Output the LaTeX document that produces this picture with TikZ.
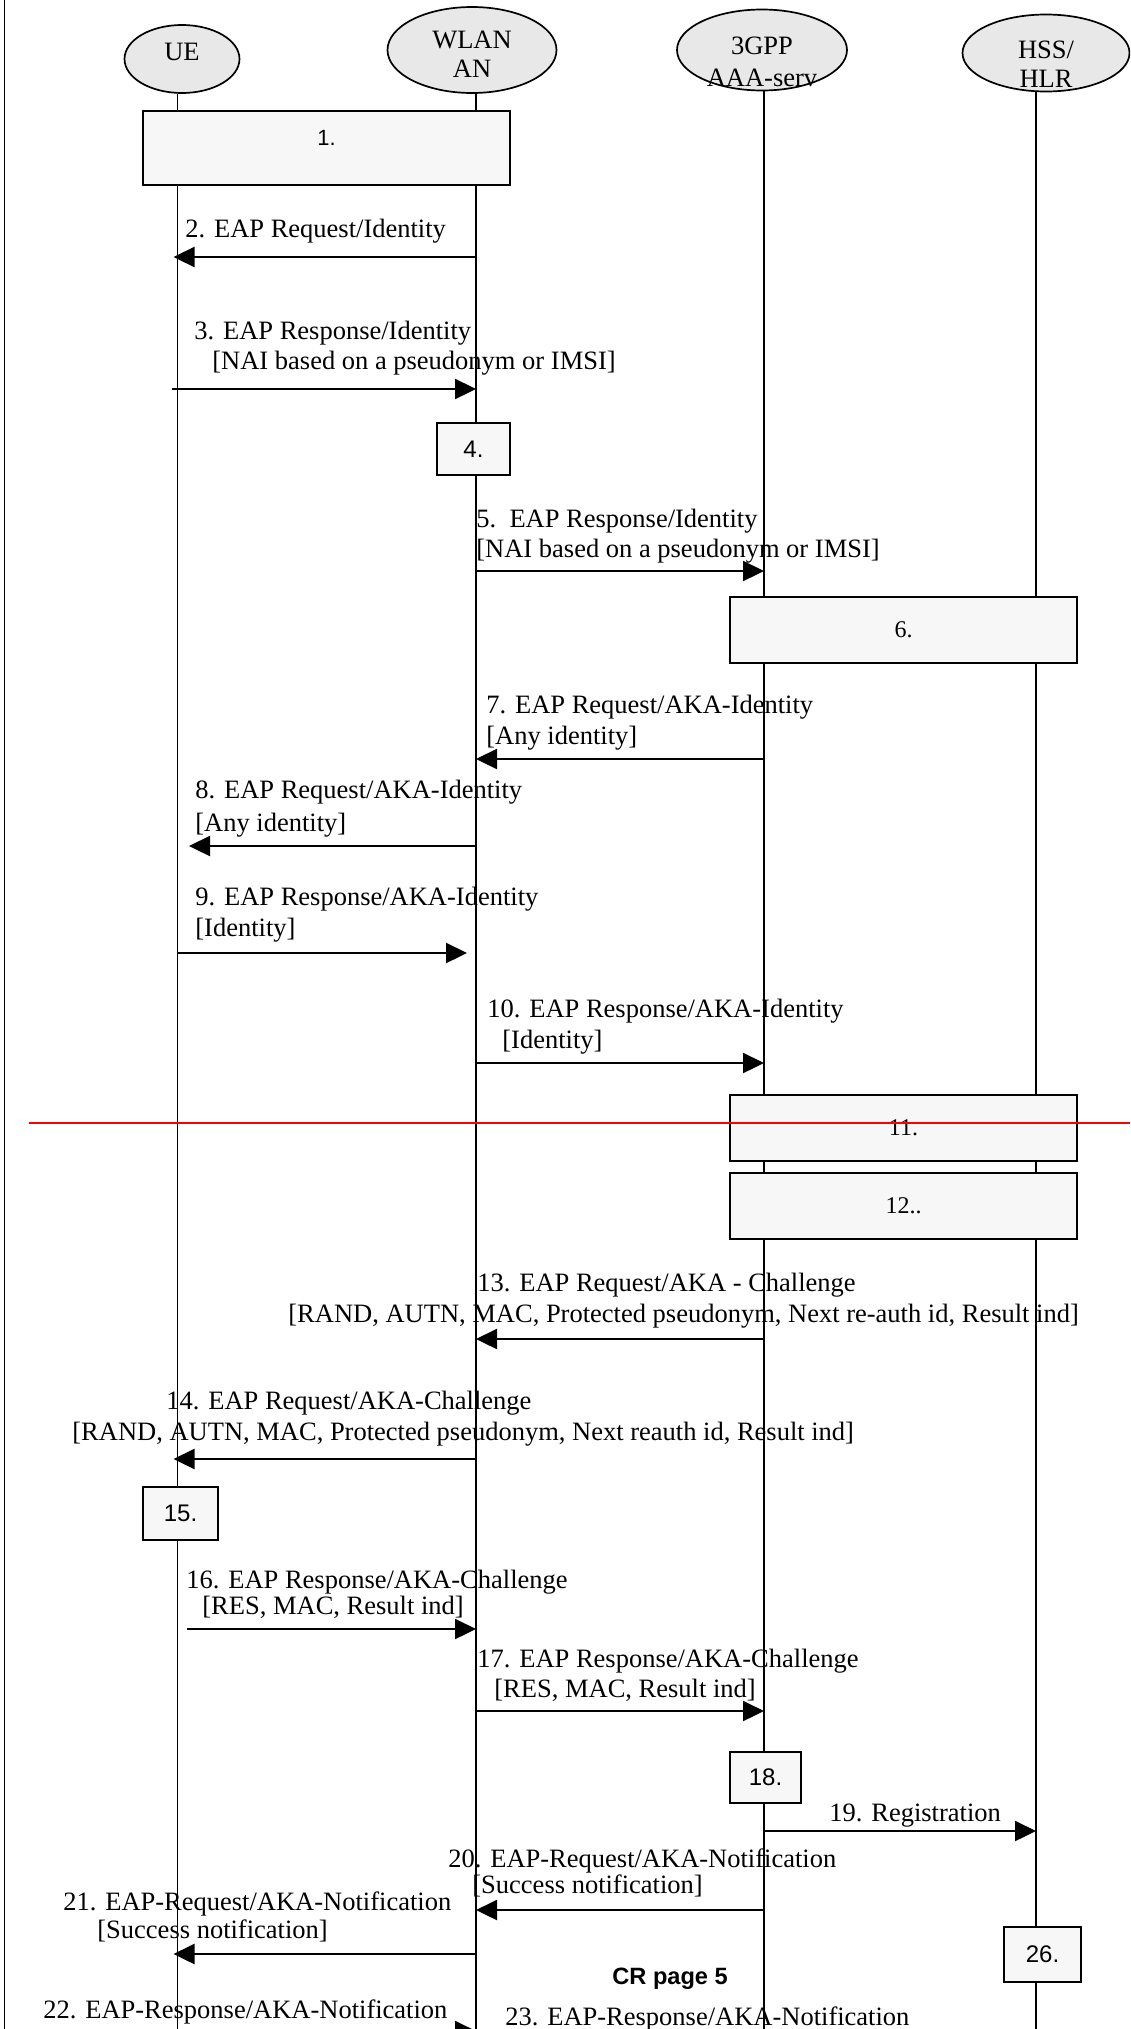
\documentclass[tikz,border=0pt]{standalone}
\usepackage{fontspec}
\setmainfont{Liberation Serif}
\setsansfont{Liberation Sans}
\usetikzlibrary{shapes.geometric,arrows.meta}

\definecolor{actorgray}{HTML}{E8E8E8}
\definecolor{boxgray}{HTML}{F7F7F7}
\newcommand{\msgfont}{\fontsize{13.25}{14.5}\selectfont}

\begin{document}
\begin{tikzpicture}[x=0.5pt, y=-0.5pt,
    actor/.style={ellipse, draw, fill=actorgray, line width=0.85pt, inner sep=0pt},
    actortext/.style={align=center, inner sep=0pt, font=\msgfont},
    stepbox/.style={rectangle, draw, fill=boxgray, line width=1pt, inner sep=0pt, font=\sffamily\fontsize{12}{14}\selectfont},
    serifbox/.style={stepbox, font=\rmfamily\fontsize{12}{14}\selectfont},
    life/.style={line width=0.9pt},
    msg/.style={line width=1.15pt, -{Triangle[length=10.5pt, width=10pt]}},
    lbl/.style={anchor=base west, inner sep=0pt, font=\msgfont},
]
\useasboundingbox (0,0) rectangle (1130,2029);
\clip (0,0) rectangle (1130,2029);

% Page rule on the left
\draw[line width=0.7pt] (4.5,0) -- (4.5,2029);

% Actors
\node[actor, minimum width=57.5pt, minimum height=34pt,
      label={[actortext, yshift=3.5pt]center:UE}] (ue) at (182,59) {};
\node[actor, minimum width=84.5pt, minimum height=43pt,
      label={[actortext, yshift=-2pt]center:WLAN\\AN}] (wlan) at (472,50) {};
\node[actor, minimum width=85pt, minimum height=40.5pt,
      label={[actortext, yshift=-6pt]center:3GPP\\[1.5pt]AAA-serv}] (aaa) at (762,50) {};
\node[actor, minimum width=83.5pt, minimum height=38.5pt,
      label={[actortext, yshift=-5.5pt]center:HSS/\\HLR}] (hss) at (1046,53) {};

% Lifelines
\coordinate (ue-end) at (177.5,2029);
\coordinate (wlan-end) at (476,2029);
\coordinate (aaa-end) at (764,2029);
\coordinate (hss-end) at (1036,2029);
\foreach \n in {ue, wlan, aaa, hss} {
    \draw[life] (\n-end |- \n.south) -- (\n-end);
}

% Procedure steps
\node[stepbox, minimum width=183.5pt, text height=17.4pt, text depth=19.6pt, font=\sffamily\fontsize{11}{13}\selectfont] (s1) at (326.5,148) {1.};
\node[stepbox, minimum width=36.5pt, minimum height=26pt] (s4) at (473.5,449) {4.};
\node[serifbox, minimum width=173.5pt, minimum height=33pt] (s6) at (903.5,630) {6.};
\node[serifbox, minimum width=173.5pt, minimum height=33pt] (s11) at (903.5,1128) {11.};
\node[serifbox, minimum width=173.5pt, minimum height=33pt] (s12) at (903.5,1206) {12..};
\node[stepbox, minimum width=37.5pt, minimum height=26.5pt] (s15) at (180.5,1513.5) {15.};
\node[stepbox, minimum width=35.5pt, minimum height=25.5pt] (s18) at (765.5,1777.5) {18.};
\node[stepbox, minimum width=38.5pt, minimum height=27.5pt] (s26) at (1042.5,1954.5) {26.};

% Messages
\draw[msg, shorten >=-2pt] (wlan-end |- 0,257) -- (ue-end |- 0,257);
\draw[msg, shorten <=-3pt] (ue-end |- 0,389) -- (wlan-end |- 0,389);
\draw[msg] (wlan-end |- 0,571) -- (aaa-end |- 0,571);
\draw[msg] (aaa-end |- 0,759) -- (wlan-end |- 0,759);
\draw[msg, shorten >=5.75pt] (wlan-end |- 0,846) -- (ue-end |- 0,846);
\draw[msg, shorten >=4.5pt] (ue-end |- 0,953) -- (wlan-end |- 0,953);
\draw[msg] (wlan-end |- 0,1063) -- (aaa-end |- 0,1063);
\draw[msg] (aaa-end |- 0,1339) -- (wlan-end |- 0,1339);
\draw[msg, shorten >=-2pt] (wlan-end |- 0,1459) -- (ue-end |- 0,1459);
\draw[msg, shorten <=4.75pt] (ue-end |- 0,1629) -- (wlan-end |- 0,1629);
\draw[msg] (wlan-end |- 0,1711) -- (aaa-end |- 0,1711);
\draw[msg] (aaa-end |- 0,1831) -- (hss-end |- 0,1831);
\draw[msg] (aaa-end |- 0,1910) -- (wlan-end |- 0,1910);
\draw[msg, shorten >=-2pt] (wlan-end |- 0,1954) -- (ue-end |- 0,1954);
\draw[msg] (ue-end |- 0,2031) -- (wlan-end |- 0,2031);

% Message labels
\node[lbl] (l2) at (185,237) {2. EAP Request/Identity};
\node[lbl] (l3) at (194,339) {3. EAP Response/Identity};
\node[lbl] (l3b) at (212,369) {[NAI based on a pseudonym or IMSI]};
\node[lbl] (l5) at (476,527) {5.\ \ EAP Response/Identity};
\node[lbl] (l5b) at (476,557) {[NAI based on a pseudonym or IMSI]};
\node[lbl] (l7) at (486,713) {7. EAP Request/AKA-Identity};
\node[lbl] (l7b) at (486,744) {[Any identity]};
\node[lbl] (l8) at (195,798) {8. EAP Request/AKA-Identity};
\node[lbl] (l8b) at (195,831) {[Any identity]};
\node[lbl] (l9) at (195,905) {9. EAP Response/AKA-Identity};
\node[lbl] (l9b) at (195,936) {[Identity]};
\node[lbl] (l10) at (487,1017) {10. EAP Response/AKA-Identity};
\node[lbl] (l10b) at (502,1048) {[Identity]};
\node[lbl] (l13) at (477,1291) {13. EAP Request/AKA - Challenge};
\node[lbl] (l13b) at (288,1322) {[RAND, AUTN, MAC, Protected pseudonym, Next re-auth id, Result ind]};
\node[lbl] (l14) at (166,1409) {14. EAP Request/AKA-Challenge};
\node[lbl] (l14b) at (72,1440) {[RAND, AUTN, MAC, Protected pseudonym, Next reauth id, Result ind]};
\node[lbl] (l16) at (186,1588) {16. EAP Response/AKA-Challenge};
\node[lbl] (l16b) at (202,1614) {[RES, MAC, Result ind]};
\node[lbl] (l17) at (477,1667) {17. EAP Response/AKA-Challenge};
\node[lbl] (l17b) at (494,1697) {[RES, MAC, Result ind]};
\node[lbl] (l19) at (829,1821) {19. Registration};
\node[lbl] (l20) at (448,1867) {20. EAP-Request/AKA-Notification};
\node[lbl] (l20b) at (472,1893) {[Success notification]};
\node[lbl] (l21) at (63,1910) {21. EAP-Request/AKA-Notification};
\node[lbl] (l21b) at (97,1938) {[Success notification]};
\node[lbl] (l22) at (43,2018) {22. EAP-Response/AKA-Notification};
\node[lbl] (l23) at (505,2025) {23. EAP-Response/AKA-Notification};

% Page mark
\node[lbl, font=\sffamily\bfseries\fontsize{11.8}{14}\selectfont] (page) at (612,1984) {CR page 5};

% Change marker
\draw[red, line width=0.75pt] (29,1123) -- (1130,1123);

\end{tikzpicture}
\end{document}
